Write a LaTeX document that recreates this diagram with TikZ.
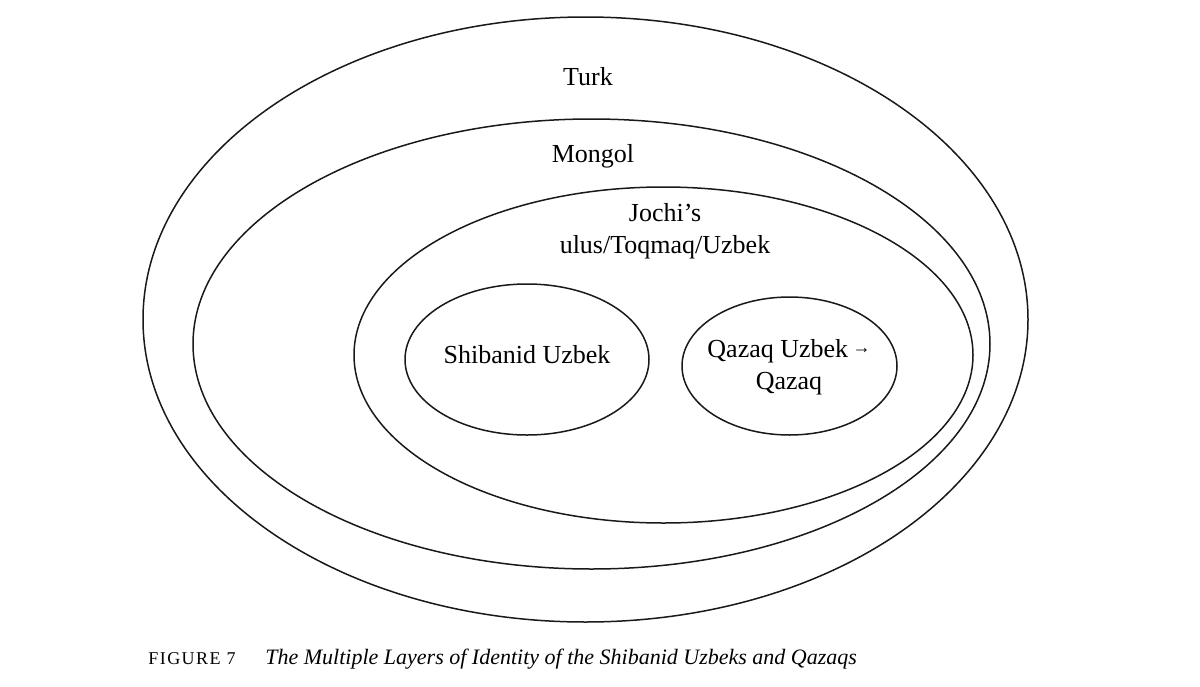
\documentclass[tikz,border=0pt]{standalone}
\usepackage{fontspec}
\setmainfont{Liberation Serif}
\usepackage{tikz}

\begin{document}
\begin{tikzpicture}[x=0.5pt, y=-0.5pt,
  layer/.style={line width=0.75pt, black!90},
  lbl/.style={font=\fontsize{13}{16}\selectfont, align=center, inner sep=0pt}]
  \useasboundingbox (0,0) rectangle (1200,686);

  % Layers: Turk, Mongol, Jochi, Shibanid, Qazaq
  \foreach \cx/\cy/\rx/\ry in {585.5/319.5/442.5/302.5, 591.5/344/398.5/225,
      663.5/355/309.5/168, 527/359.5/122/75.5, 789.5/366/107.5/69} {
    \draw[layer] (\cx,\cy) ellipse [x radius=\rx, y radius=\ry];
  }

  % Labels
  \node[lbl] (turk) at (588,77) {Turk};
  \node[lbl] (mongol) at (593,156) {Mongol};
  \node[lbl] (jochi) at (665,231) {Jochi’s\\ulus/Toqmaq/Uzbek};
  \node[lbl] (shibanid) at (527,355) {Shibanid Uzbek};
  \node[lbl] (qazaq) at (789,367) {Qazaq Uzbek\,\raisebox{1.8pt}{\fontsize{9}{9}\selectfont →}\\Qazaq};

  % Caption
  \node[anchor=west, inner sep=0pt, font=\fontsize{9}{10}\selectfont\addfontfeature{LetterSpace=8}] (figno) at (148,659) {FIGURE 7};
  \node[anchor=west, inner sep=0pt, font=\fontsize{11}{13}\selectfont\itshape] (caption) at (265,659)
    {The Multiple Layers of Identity of the Shibanid Uzbeks and Qazaqs};
\end{tikzpicture}
\end{document}
